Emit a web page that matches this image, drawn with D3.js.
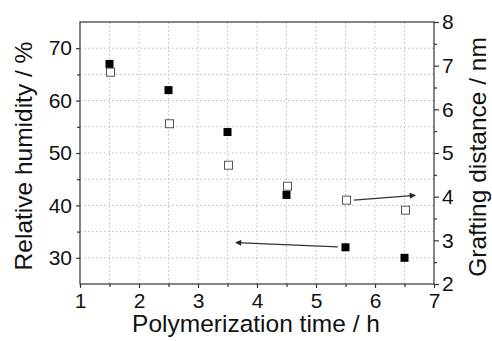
<!DOCTYPE html>
<html>
<head>
<meta charset="utf-8">
<script src="https://d3js.org/d3.v7.min.js"></script>
<style>
  body { margin: 0; background: #fff; }
  svg text { font-family: "Liberation Sans", Arial, sans-serif; fill: #111; }
</style>
</head>
<body>
<div id="chart"></div>
<script>
// data
var times = [1.5, 2.5, 3.5, 4.5, 5.5, 6.5];
var humidity = [67, 62, 54, 42, 32, 30];               // filled squares, left axis
var distance = [6.85, 5.67, 4.72, 4.24, 3.92, 3.69];   // open squares, right axis
var xTicks = [1, 2, 3, 4, 5, 6, 7];
var leftTicks = [30, 40, 50, 60, 70];
var rightTicks = [2, 3, 4, 5, 6, 7, 8];
// arrows pointing to the axis each series belongs to
var arrowLeft = {x1: 5.37, y1: 32.1, x2: 3.64, y2: 32.9};   // left-axis units
var arrowRight = {x1: 5.64, y1: 3.92, x2: 6.68, y2: 4.03}; // right-axis units

var W = 492, H = 341;
var margin = {top: 22, right: 58, bottom: 57, left: 80},
    width = W - margin.left - margin.right,
    height = H - margin.top - margin.bottom;

var svg = d3.select("#chart").append("svg")
    .attr("width", W).attr("height", H);

var defs = svg.append("defs");
defs.append("marker")
    .attr("id", "head")
    .attr("viewBox", "0 0 10 10")
    .attr("refX", 9).attr("refY", 5)
    .attr("markerWidth", 7).attr("markerHeight", 6)
    .attr("markerUnits", "userSpaceOnUse")
    .attr("orient", "auto")
  .append("path").attr("d", "M0,0 L10,5 L0,10 z").attr("fill", "#222");

var g = svg.append("g")
    .attr("transform", "translate(" + margin.left + "," + margin.top + ")");

var x = d3.scaleLinear().domain([1, 7]).range([0, width]);
var yL = d3.scaleLinear().domain([25, 75]).range([height, 0]);
var yR = d3.scaleLinear().domain([2, 8]).range([height, 0]);

// grid
var grid = g.append("g").attr("stroke", "#bbb").attr("stroke-dasharray", "1.5,2.5").attr("stroke-width", 1);
d3.range(1.5, 7, 0.5).forEach(function(v) {
  grid.append("line").attr("x1", x(v)).attr("x2", x(v)).attr("y1", 0).attr("y2", height);
});
d3.range(30, 75, 5).forEach(function(v) {
  grid.append("line").attr("x1", 0).attr("x2", width).attr("y1", yL(v)).attr("y2", yL(v));
});

// frame
g.append("rect").attr("width", width).attr("height", height)
  .attr("fill", "none").attr("stroke", "#333").attr("stroke-width", 1.2);

// axes
function styleAxis(sel) {
  sel.select(".domain").remove();
  sel.selectAll("line").attr("stroke", "#333").attr("stroke-width", 1.2);
  sel.selectAll("text").style("font-size", "21px").attr("fill", "#111");
}
var xAx = g.append("g").attr("transform", "translate(0," + height + ")")
  .call(d3.axisBottom(x).tickValues(xTicks).tickFormat(d3.format("d")).tickSize(4).tickPadding(5));
styleAxis(xAx);
g.append("g").attr("transform", "translate(0," + height + ")")
  .call(d3.axisBottom(x).tickValues(d3.range(1.5, 7, 1)).tickFormat("").tickSize(3)).call(styleAxis);

var lAx = g.append("g")
  .call(d3.axisLeft(yL).tickValues(leftTicks).tickFormat(d3.format("d")).tickSize(4).tickPadding(4));
styleAxis(lAx);
g.append("g").call(d3.axisLeft(yL).tickValues([35, 45, 55, 65]).tickFormat("").tickSize(3)).call(styleAxis);

var rAx = g.append("g").attr("transform", "translate(" + width + ",0)")
  .call(d3.axisRight(yR).tickValues(rightTicks).tickFormat(d3.format("d")).tickSize(5).tickPadding(3));
styleAxis(rAx);
g.append("g").attr("transform", "translate(" + width + ",0)")
  .call(d3.axisRight(yR).tickValues(d3.range(2.5, 8, 1)).tickFormat("").tickSize(3)).call(styleAxis);

// titles
g.append("text")
  .attr("x", width / 2 - 1).attr("y", height + 48)
  .attr("text-anchor", "middle").style("font-size", "24.5px")
  .text("Polymerization time / h");
g.append("text")
  .attr("transform", "translate(" + (-48) + "," + (height / 2 + 3) + ") rotate(-90)")
  .attr("text-anchor", "middle").style("font-size", "24.5px")
  .text("Relative humidity / %");
g.append("text")
  .attr("transform", "translate(" + (width + 52) + "," + (height / 2 + 4) + ") rotate(-90)")
  .attr("text-anchor", "middle").style("font-size", "24.5px")
  .text("Grafting distance / nm");

// arrows
g.append("line")
  .attr("x1", x(arrowLeft.x1)).attr("y1", yL(arrowLeft.y1))
  .attr("x2", x(arrowLeft.x2)).attr("y2", yL(arrowLeft.y2))
  .attr("stroke", "#333").attr("stroke-width", 1.3).attr("marker-end", "url(#head)");
g.append("line")
  .attr("x1", x(arrowRight.x1)).attr("y1", yR(arrowRight.y1))
  .attr("x2", x(arrowRight.x2)).attr("y2", yR(arrowRight.y2))
  .attr("stroke", "#333").attr("stroke-width", 1.3).attr("marker-end", "url(#head)");

// points
var s = 8;
g.selectAll(".filled").data(times).enter().append("rect")
  .attr("class", "filled")
  .attr("x", function(d) { return x(d) - s / 2; })
  .attr("y", function(d, i) { return yL(humidity[i]) - s / 2; })
  .attr("width", s).attr("height", s).attr("fill", "#000");

g.selectAll(".open").data(times).enter().append("rect")
  .attr("class", "open")
  .attr("x", function(d) { return x(d) - s / 2 + 1; })
  .attr("y", function(d, i) { return yR(distance[i]) - s / 2; })
  .attr("width", s).attr("height", s)
  .attr("fill", "#fff").attr("stroke", "#555").attr("stroke-width", 1);
</script>
</body>
</html>
